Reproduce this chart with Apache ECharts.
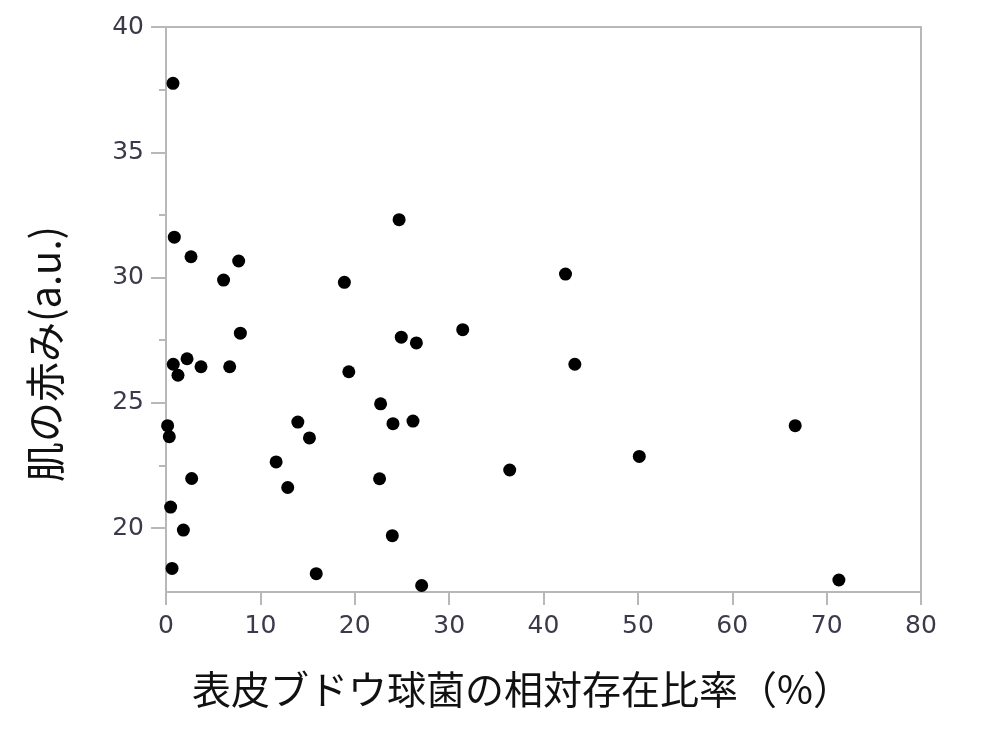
<!DOCTYPE html>
<html>
<head>
<meta charset="utf-8">
<script src="https://cdn.jsdelivr.net/npm/echarts@6/dist/echarts.min.js"></script>
<style>
html,body{margin:0;padding:0;background:#fff;}
#chart{width:994px;height:749px;}
</style>
</head>
<body>
<div id="chart"></div>
<script>
// Relative abundance of S. epidermidis (%)
const xValues = [0.74, 0.88, 2.65, 6.1, 7.7, 18.9, 24.7, 7.88, 0.77, 2.23, 1.27, 3.71, 6.75, 19.37, 22.74, 24.05, 0.17, 0.35, 13.97, 15.2, 11.67, 2.72, 12.9, 22.63, 0.49, 1.84, 23.98, 0.64, 15.92, 42.33, 24.93, 26.53, 31.44, 43.32, 26.17, 36.42, 50.15, 27.09, 66.67, 71.3];
// Skin redness (a.u.)
const yValues = [37.75, 31.61, 30.83, 29.90, 30.66, 29.81, 32.31, 27.78, 26.54, 26.76, 26.10, 26.44, 26.44, 26.24, 24.96, 24.17, 24.09, 23.65, 24.23, 23.6, 22.64, 21.98, 21.62, 21.97, 20.84, 19.92, 19.70, 18.39, 18.18, 30.14, 27.62, 27.39, 27.92, 26.54, 24.27, 22.32, 22.86, 17.71, 24.09, 17.93];
const xTicks = [0, 10, 20, 30, 40, 50, 60, 70, 80];
const yTicks = [20, 25, 30, 35, 40];
const yMinorTicks = [22.5, 27.5, 32.5, 37.5];
const xTitle = '表皮ブドウ球菌の相対存在比率（%）';
const yTitle = '肌の赤み(a.u.)';

const points = xValues.map((x, i) => [x, yValues[i]]);
const axisGray = '#b8b8b8';
const labelColor = '#3a3a4a';

const chart = echarts.init(document.getElementById('chart'), null, {renderer: 'canvas'});
chart.setOption({
  backgroundColor: '#ffffff',
  animation: false,
  grid: {left: 166, right: 73, top: 27, bottom: 157, show: true, borderColor: axisGray, borderWidth: 2, backgroundColor: 'transparent'},
  xAxis: {
    type: 'value', min: 0, max: 80, interval: 10,
    axisLine: {show: true, lineStyle: {color: axisGray, width: 2}},
    axisTick: {show: true, inside: false, length: 13, lineStyle: {color: axisGray, width: 2}, customValues: xTicks},
    axisLabel: {show: true, margin: 22, color: labelColor, fontFamily: 'DejaVu Sans', fontSize: 25, customValues: xTicks},
    splitLine: {show: false}
  },
  yAxis: [{
    type: 'value', min: 17.45, max: 40,
    axisLine: {show: true, lineStyle: {color: axisGray, width: 2}},
    axisTick: {show: true, inside: false, length: 15, lineStyle: {color: axisGray, width: 2}, customValues: yTicks},
    axisLabel: {show: true, margin: 22, color: labelColor, fontFamily: 'DejaVu Sans', fontSize: 25, customValues: yTicks},
    splitLine: {show: false}
  }, {
    type: 'value', min: 17.45, max: 40, position: 'left',
    axisLine: {show: false},
    axisTick: {show: true, inside: false, length: 7, lineStyle: {color: axisGray, width: 2}, customValues: yMinorTicks},
    axisLabel: {show: false, customValues: yMinorTicks},
    splitLine: {show: false}
  }],
  graphic: [{
    type: 'text', x: 192, y: 689,
    style: {text: xTitle, font: '39px "Noto Sans CJK JP"', fill: '#111111', align: 'left', verticalAlign: 'middle'}
  }, {
    type: 'text', x: 45, y: 354, rotation: Math.PI / 2,
    style: {text: yTitle, font: '40px "Noto Sans CJK JP"', fill: '#111111', align: 'center', verticalAlign: 'middle'}
  }],
  series: [{
    type: 'scatter',
    data: points,
    symbol: 'circle',
    symbolSize: 13,
    itemStyle: {color: '#000000', opacity: 1},
    z: 5
  }]
});
</script>
</body>
</html>
